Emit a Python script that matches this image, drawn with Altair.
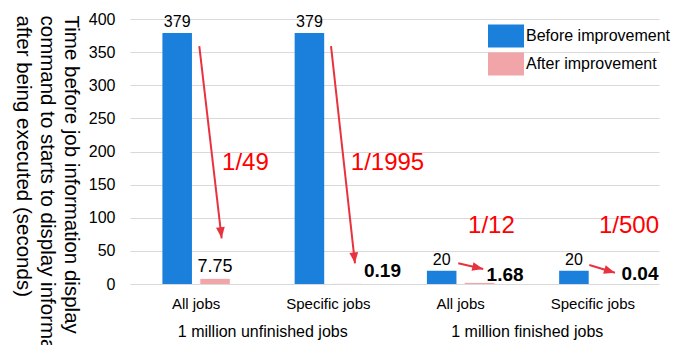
import math
import json
import altair as alt
import pandas as pd

# ---------------- data ----------------
categories = ["All jobs", "Specific jobs", "All jobs", "Specific jobs"]
groups = ["1 million unfinished jobs", "1 million finished jobs"]
series_names = ["Before improvement", "After improvement"]
before_values = [379, 379, 20, 20]
after_values = [7.75, 0.19, 1.68, 0.04]
ratio_labels = ["1/49", "1/1995", "1/12", "1/500"]
y_ticks = [0, 50, 100, 150, 200, 250, 300, 350, 400]
y_title = ["Time before job information display",
           "command to starts to display information",
           "after being executed (seconds)"]

# annotation anchors in data units (x: category units 0..4 across plot, y: seconds)
group_label_x = [1, 3]
ratio_x = [0.873, 1.947, 2.733, 3.773]
ratio_y = [182.6, 182.6, 87.5, 87.5]
arrow_x1 = [0.524, 1.520, 2.482, 3.473]
arrow_y1 = [359.2, 359.2, 31.2, 28.7]
arrow_x2 = [0.693, 1.701, 2.671, 3.667]
arrow_y2 = [69.0, 31.2, 22.6, 17.1]
after_label_x = [0.643, 1.909, 2.836, 3.856]
after_label_y = [18.6, 11.0, 5.0, 6.0]

# ---------------- style ----------------
W, H = 529, 265
BLUE = "#1a80dc"
PINK = "#f2a5a8"
ARROW = "#e8333f"
RED = "#ff0000"
GRID = "#d9d9d9"
FONT = "Liberation Sans"

keys = [f"{c}|{i}" for i, c in enumerate(categories)]
bar_df = pd.DataFrame({
    "key": keys * 2,
    "series": [series_names[0]] * 4 + [series_names[1]] * 4,
    "value": before_values + after_values,
})

ys = alt.Scale(domain=[0, 400], nice=False)
y_axis = alt.Axis(values=y_ticks, title=y_title, titleAngle=90,
                  titleAlign="left", titleBaseline="top",
                  titleX=-50, titleY=-4, titleFontSize=20.5,
                  titleLineHeight=24, titleFontWeight="normal",
                  titleColor="black", labelFontSize=16,
                  labelColor="black", labelPadding=15,
                  ticks=False, domain=False, grid=True,
                  gridColor=GRID, gridWidth=1)

x_enc = alt.X("key:N", sort=keys,
              scale=alt.Scale(paddingInner=0.49, paddingOuter=0.245),
              axis=alt.Axis(title=None, labelExpr="split(datum.label, '|')[0]",
                            labelAngle=0, labelFontSize=15, labelColor="black",
                            labelPadding=12, labelBaseline="top",
                            ticks=False, domain=False, grid=False))
xoff_enc = alt.XOffset("series:N", sort=series_names,
                       scale=alt.Scale(paddingInner=0.22, paddingOuter=0))

legend = alt.Legend(title=None, orient="none", legendX=364.5, legendY=5.5,
                    symbolType="M-1.565,-1H1.565V1H-1.565Z", symbolSize=529,
                    symbolStrokeWidth=0, symbolOpacity=1, labelFontSize=16,
                    labelColor="black", labelOffset=8.5, rowPadding=5,
                    padding=0)

bars = alt.Chart(bar_df).mark_bar().encode(
    x=x_enc, xOffset=xoff_enc,
    y=alt.Y("value:Q", scale=ys, axis=y_axis),
    color=alt.Color("series:N", sort=series_names,
                    scale=alt.Scale(domain=series_names, range=[BLUE, PINK]),
                    legend=legend),
)

before_lbl = alt.Chart(bar_df).transform_filter(
    alt.datum.series == series_names[0]
).mark_text(baseline="alphabetic", dy=-6, fontSize=16, color="black").encode(
    x=x_enc, xOffset=xoff_enc,
    y=alt.Y("value:Q", scale=ys, axis=y_axis),
    text=alt.Text("value:Q", format="d"),
)

part_a = alt.layer(bars, before_lbl)

# ---------------- annotations ----------------
xs = alt.Scale(domain=[0, 4], nice=False, zero=False)
group_expr = json.dumps(groups) + "[floor(datum.value / 2)]"
gx_axis = alt.Axis(orient="bottom", values=group_label_x, title=None,
                   labelExpr=group_expr, labelFontSize=16,
                   labelColor="black", labelPadding=39,
                   labelBaseline="top", ticks=False, domain=False,
                   grid=False, labelOverlap=False)

step_px = W / 4.0
y_px = H / 400.0
angles = []
for a, b, c, d in zip(arrow_x1, arrow_y1, arrow_x2, arrow_y2):
    dx = (c - a) * step_px
    dy = -(d - b) * y_px
    angles.append(math.degrees(math.atan2(dx, -dy)) % 360)

arrow_df = pd.DataFrame({"x1": arrow_x1, "y1": arrow_y1, "x2": arrow_x2,
                         "y2": arrow_y2, "angle": angles})
ratio_df = pd.DataFrame({"x": ratio_x, "y": ratio_y, "label": ratio_labels})
after_df = pd.DataFrame({"idx": list(range(4)), "x": after_label_x,
                         "y": after_label_y, "value": after_values})

ratio = alt.Chart(ratio_df).mark_text(
    fontSize=24, color=RED, align="center", baseline="middle"
).encode(
    x=alt.X("x:Q", scale=xs, axis=gx_axis),
    y=alt.Y("y:Q", scale=ys, axis=y_axis),
    text="label:N",
)

rules = alt.Chart(arrow_df).mark_rule(color=ARROW, strokeWidth=2).encode(
    x=alt.X("x1:Q", scale=xs, axis=gx_axis),
    y=alt.Y("y1:Q", scale=ys, axis=y_axis),
    x2="x2:Q", y2="y2:Q",
)

heads = alt.Chart(arrow_df).mark_point(
    shape="M0,0L-0.8,2L0.8,2Z", filled=True, size=121, color=ARROW, opacity=1
).encode(
    x=alt.X("x2:Q", scale=xs, axis=gx_axis),
    y=alt.Y("y2:Q", scale=ys, axis=y_axis),
    angle=alt.Angle("angle:Q", scale=None),
)

after_norm = alt.Chart(after_df).transform_filter("datum.idx == 0").mark_text(
    fontSize=18, color="black", align="center", baseline="alphabetic"
).encode(
    x=alt.X("x:Q", scale=xs, axis=gx_axis),
    y=alt.Y("y:Q", scale=ys, axis=y_axis),
    text=alt.Text("value:Q"),
)

after_bold = alt.Chart(after_df).transform_filter("datum.idx > 0").mark_text(
    fontSize=19, fontWeight="bold", color="black", align="center",
    baseline="alphabetic"
).encode(
    x=alt.X("x:Q", scale=xs, axis=gx_axis),
    y=alt.Y("y:Q", scale=ys, axis=y_axis),
    text=alt.Text("value:Q", format=".2f"),
)

part_b = alt.layer(ratio, rules, heads, after_norm, after_bold)

chart = alt.layer(part_a, part_b).resolve_scale(x="independent").properties(
    width=W, height=H,
    autosize=alt.AutoSizeParams(type="none"),
    padding={"left": 130, "top": 19, "right": 23, "bottom": 61},
).configure(font=FONT).configure_view(stroke=None)

chart.save("out.html", embed_options={"renderer": "svg", "actions": False})
